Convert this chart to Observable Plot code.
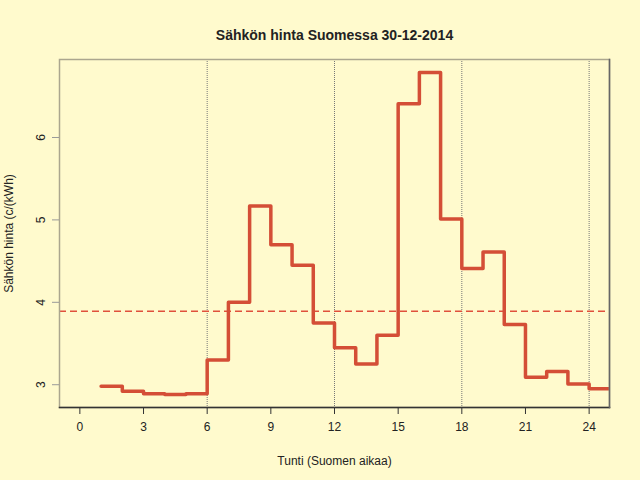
<!DOCTYPE html>
<html>
<head>
<meta charset="utf-8">
<script src="https://cdn.jsdelivr.net/npm/d3@7"></script>
<script src="https://cdn.jsdelivr.net/npm/@observablehq/plot@0.6"></script>
<style>
  html, body { margin: 0; padding: 0; background: #FFFACD; }
</style>
</head>
<body>
<div id="chart"></div>
<script>
const titleText = "Sähkön hinta Suomessa 30-12-2014";
const xLabel = "Tunti (Suomen aikaa)";
const yLabel = "Sähkön hinta (c/(kWh)";
const hours = [1,2,3,4,5,6,7,8,9,10,11,12,13,14,15,16,17,18,19,20,21,22,23,24];
const prices = [2.98,2.92,2.89,2.88,2.89,3.30,4.00,5.17,4.70,4.45,3.75,3.45,3.25,3.60,6.41,6.79,5.01,4.41,4.61,3.73,3.09,3.16,3.01,2.95];
const xTicks = [0,3,6,9,12,15,18,21,24];
const yTicks = [3,4,5,6];
const dayBreaks = [6,12,18,24];

const steps = hours.map((h, i) => ({hour: h, price: prices[i]}));
steps.push({hour: hours[hours.length - 1] + 1, price: prices[prices.length - 1]});
const meanPrice = d3.mean(prices);

// R-style 4% axis extension
const xr = [0, 24], yr = d3.extent(prices);
const xpad = (xr[1] - xr[0]) * 0.04, ypad = (yr[1] - yr[0]) * 0.04;

const chart = Plot.plot({
  width: 640,
  height: 480,
  marginLeft: 59,
  marginRight: 31,
  marginTop: 59,
  marginBottom: 73,
  style: {background: "#FFFACD", fontFamily: "'Liberation Sans', Arial, sans-serif", fontSize: "12px", color: "#222"},
  x: {domain: [xr[0] - xpad, xr[1] + xpad]},
  y: {domain: [yr[0] - ypad, yr[1] + ypad]},
  marks: [
    Plot.ruleX(dayBreaks, {stroke: "#777", strokeDasharray: "1,1", strokeWidth: 1}),
    Plot.ruleY([meanPrice], {stroke: "#E0503C", strokeDasharray: "7,4", strokeWidth: 1.5}),
    Plot.line(steps, {x: "hour", y: "price", curve: "step-after", stroke: "#D44E36", strokeWidth: 3.5, clip: true}),
    Plot.frame({stroke: "#ABA68E", strokeWidth: 1.5}),
    Plot.frame({anchor: "bottom", stroke: "#333", strokeWidth: 1.5}),
    Plot.frame({anchor: "right", stroke: "#666", strokeWidth: 1.5}),
    Plot.axisX({ticks: xTicks, tickSize: 7, tickPadding: 8, stroke: "#333", fill: "#222", fontSize: 12, label: xLabel, labelAnchor: "center", labelArrow: "none", labelOffset: 57}),
    Plot.axisY({ticks: yTicks, tickFormat: d3.format("d"), tickSize: 7, tickPadding: 8, tickRotate: -90, stroke: "#999", fill: "#222", fontSize: 12, label: yLabel, labelAnchor: "center", labelArrow: "none", labelOffset: 55}),
    Plot.text([titleText], {text: d => d, frameAnchor: "top", dy: -29, fontWeight: "bold", fontSize: 14, fill: "#222"})
  ]
});
document.getElementById("chart").appendChild(chart);
</script>
</body>
</html>
